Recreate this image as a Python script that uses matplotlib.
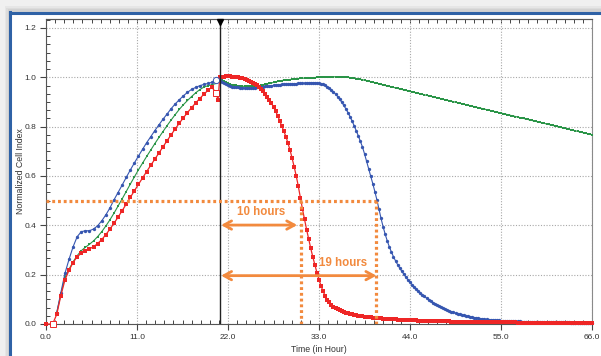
import numpy as np
import matplotlib
matplotlib.use("Agg")
import matplotlib.pyplot as plt
import matplotlib.patches as mpatches
from matplotlib.lines import Line2D
from matplotlib.ticker import MultipleLocator, FuncFormatter

plt.rcParams['font.family'] = ['Liberation Sans', 'DejaVu Sans']

# ---------------- data ----------------
# sampling before compound addition (~every 0.5 h)
t_pre = np.round(np.linspace(1.3, 20.56, 40), 3)
blue_pre = [46, 127, 205, 262, 313, 354, 374, 378, 378, 385,
            398, 418, 442, 470, 503, 533, 563, 594, 624, 653,
            681, 708, 735, 759, 784, 807, 830, 851, 873, 892,
            909, 925, 939, 951, 959, 966, 971, 975, 980, 989]
green_pre = [46, 120, 190, 222, 252, 277, 297, 311, 323, 337,
             354, 374, 397, 422, 449, 478, 507, 537, 567, 596,
             625, 652, 679, 705, 731, 756, 780, 804, 827, 849,
             870, 889, 906, 922, 937, 950, 960, 966, 970, 975]
red_pre = [39, 115, 178, 218, 249, 273, 286, 296, 305, 313,
           326, 342, 362, 384, 408, 433, 459, 486, 513, 540,
           566, 592, 618, 643, 668, 693, 718, 743, 767, 791,
           814, 836, 857, 877, 896, 914, 931, 947, 960]
red_start_t = [0.0, 0.8]
red_start_v = [0, 0]
red_dip_t = [20.56, 20.8]
red_dip_v = [935, 908]

# sampling after compound addition (every 0.25 h from 21 h to 66 h)
t_post = 21.0 + 0.25 * np.arange(181)
blue_post = [990, 982, 976, 971, 967, 964, 962, 961, 960, 959,
             958, 958, 957, 957, 957, 957, 957, 958, 959, 960,
             961, 962, 963, 964, 965, 966, 967, 968, 969, 970,
             971, 971, 972, 972, 973, 973, 974, 974, 975, 975,
             976, 976, 977, 977, 978, 978, 978, 977, 975, 973,
             971, 967, 962, 956, 949, 941, 932, 922, 911, 899,
             886, 872, 857, 841, 823, 804, 784, 763, 741, 718,
             690, 660, 630, 600, 569, 537, 503, 465, 428, 394,
             364, 337, 313, 292, 273, 256, 241, 227, 214, 202,
             190, 179, 169, 160, 151, 142, 134, 126, 119, 112,
             105, 99, 93, 87, 82, 77, 72, 68, 64, 60,
             56, 53, 50, 47, 44, 42, 39, 37, 35, 33,
             31, 29, 28, 26, 25, 24, 22, 21, 20, 19,
             18, 18, 17, 16, 15, 15, 14, 14, 13, 13,
             12, 12, 12, 11, 11, 11, 10, 10, 10, 10,
             9, 9, 9, 9, 9, 8, 8, 8, 8, 8,
             8, 8, 7, 7, 7, 7, 7, 7, 7, 7,
             6, 6, 6, 6, 6, 6, 6, 6, 6, 6,
             6]
green_post = [995, 990, 985, 979, 975, 972, 970, 968, 967, 966,
              965, 964, 963, 963, 963, 963, 963, 964, 965, 966,
              967, 969, 971, 973, 975, 977, 979, 981, 983, 985,
              987, 988, 989, 990, 991, 992, 993, 994, 995, 996,
              996, 997, 997, 998, 998, 999, 999, 1000, 1000, 1000,
              1001, 1001, 1001, 1002, 1002, 1002, 1002, 1002, 1002, 1002,
              1002, 1001, 1000, 999, 998, 997, 995, 994, 992, 990,
              988, 986, 984, 982, 980, 978, 976, 974, 971, 969,
              967, 965, 963, 961, 959, 957, 955, 953, 951, 949,
              947, 945, 943, 941, 939, 937, 935, 933, 931, 929,
              927, 925, 923, 921, 919, 917, 915, 913, 911, 909,
              907, 905, 903, 901, 899, 897, 895, 893, 891, 889,
              887, 885, 883, 881, 879, 877, 875, 873, 871, 869,
              867, 865, 863, 861, 859, 857, 855, 853, 851, 849,
              847, 845, 843, 841, 839, 837, 835, 833, 831, 829,
              827, 825, 823, 821, 819, 817, 815, 813, 811, 809,
              807, 805, 803, 801, 799, 797, 795, 793, 791, 789,
              787, 785, 783, 781, 779, 777, 775, 773, 771, 769,
              767]
red_post = [1000, 1002, 1003, 1004, 1004, 1004, 1003, 1002, 1001, 1000,
            998, 996, 994, 991, 987, 982, 977, 973, 968, 962,
            954, 945, 934, 922, 909, 895, 880, 863, 845, 824,
            804, 783, 760, 733, 705, 672, 637, 600, 558, 512,
            466, 424, 383, 344, 307, 272, 240, 208, 180, 154,
            132, 114, 99, 88, 78, 70, 64, 59, 55, 51,
            48, 45, 43, 41, 39, 37, 35, 34, 32, 31,
            30, 29, 28, 27, 26, 25, 24, 23, 23, 22,
            21, 21, 20, 20, 19, 19, 18, 18, 17, 17,
            16, 16, 16, 15, 15, 15, 14, 14, 14, 13,
            13, 13, 13, 12, 12, 12, 12, 11, 11, 11,
            11, 11, 10, 10, 10, 10, 10, 10, 9, 9,
            9, 9, 9, 9, 9, 8, 8, 8, 8, 8,
            8, 8, 8, 8, 7, 7, 7, 7, 7, 7,
            7, 7, 7, 7, 6, 6, 6, 6, 6, 6,
            6, 6, 6, 6, 6, 6, 6, 5, 5, 5,
            5, 5, 5, 5, 5, 5, 5, 5, 5, 5,
            5, 5, 5, 5, 5, 4, 4, 4, 4, 4,
            4]

x_ticks = [0, 11, 22, 33, 44, 55, 66]
y_ticks = [0.0, 0.2, 0.4, 0.6, 0.8, 1.0, 1.2]
t_add = 21.0          # compound addition time
half_level = 0.5
t_red_half = 30.77
t_blue_half = 39.94
arrow10 = (21.16, 30.37, 0.401)
arrow19 = (21.16, 39.94, 0.196)

# ---------------- assemble ----------------
scale = 1000.0
blue_t = np.concatenate([t_pre, t_post])
blue_v = np.concatenate([blue_pre, blue_post]) / scale
green_t = np.concatenate([t_pre, t_post])
green_v = np.concatenate([green_pre, green_post]) / scale
red_t = np.concatenate([red_start_t, t_pre[:len(red_pre)], red_dip_t, t_post])
red_v = np.concatenate([red_start_v, red_pre, red_dip_v, red_post]) / scale

BLUE = '#3656b0'
GREEN = '#2a9447'
RED = '#ee2626'
ORANGE = '#f28a3e'

W, H = 601, 356
fig = plt.figure(figsize=(W / 100, H / 100), dpi=100)
fig.patch.set_facecolor('white')

# window frame decoration (soft shadow + blue border)
fig.add_artist(mpatches.Rectangle((0, 0), 1, 1, transform=fig.transFigure,
                                  facecolor='#f0f0f0', edgecolor='none', zorder=-6))
for i, c in enumerate(['#e6e6e6', '#dcdcdc', '#d2d2d2']):
    off = 3 - i
    fig.add_artist(mpatches.Rectangle(((9 - off * 1.5) / W, 0), (off * 1.5 + 1) / W,
                                      (H - 11 + off * 1.5) / H, transform=fig.transFigure,
                                      facecolor=c, edgecolor='none', zorder=-5 + i * 0.1))
    fig.add_artist(mpatches.Rectangle(((9 - off * 1.5) / W, (H - 12) / H), 1,
                                      (off * 1.5 + 1) / H, transform=fig.transFigure,
                                      facecolor=c, edgecolor='none', zorder=-5 + i * 0.1))
fig.add_artist(mpatches.Rectangle((10 / W, 0), 1, (H - 12) / H, transform=fig.transFigure,
                                  facecolor='white', edgecolor='none', zorder=-3))
fig.add_artist(Line2D([10.5 / W, 10.5 / W], [0, (H - 12) / H], transform=fig.transFigure,
                      color='#2f62a6', lw=2.2, zorder=-2))
fig.add_artist(Line2D([10 / W, 1], [(H - 12.5) / H] * 2, transform=fig.transFigure,
                      color='#2f62a6', lw=2.2, zorder=-2))

ax = fig.add_axes([46 / W, 32 / H, 546 / W, 305 / H])
ax.set_facecolor('white')
ax.set_xlim(0, 66)
ax.set_ylim(0, 1.2363)

# grid
ax.set_xticks(x_ticks)
ax.set_yticks(y_ticks)
ax.grid(True, which='major', color='#a8a8a8', lw=0.8, linestyle=(0, (1, 1.5)))
ax.set_axisbelow(True)
ax.xaxis.set_major_formatter(FuncFormatter(lambda v, p: f'{v:.1f}'))
ax.yaxis.set_major_formatter(FuncFormatter(lambda v, p: f'{v:.1f}'))
ax.xaxis.set_minor_locator(MultipleLocator(1.1))
ax.yaxis.set_minor_locator(MultipleLocator(0.2 / 6))
ax.tick_params(which='major', direction='out', length=4, width=0.8, color='#444444',
               labelsize=6, labelcolor='#333333', pad=3)
ax.tick_params(which='minor', direction='in', length=3, width=0.7, color='#444444')
ax.tick_params(axis='x', which='both', top=False)
ax.tick_params(axis='y', which='both', right=False)
sec = ax.secondary_xaxis('top')
sec.set_xticks(x_ticks)
sec.xaxis.set_minor_locator(MultipleLocator(1.1))
sec.tick_params(which='both', direction='in', length=3, width=0.7, color='#444444',
                labeltop=False)
for s in sec.spines.values():
    s.set_color('#707070')
    s.set_linewidth(0.8)
for name, s in ax.spines.items():
    s.set_color('#555555')
    s.set_linewidth(0.8)
ax.spines['right'].set_color('#8a8a8a')

ax.set_xlabel('Time (in Hour)', fontsize=6.3, color='#333333')
ax.xaxis.set_label_coords(0.5, -0.083)
ax.xaxis.label.set_va('center')
ax.set_ylabel('Normalized Cell Index', fontsize=6.3, color='#333333')
ax.yaxis.set_label_coords(-0.0476, 0.5)
ax.yaxis.label.set_va('center')

# series
ax.plot(green_t, green_v, color=GREEN, lw=0.8, marker='s', ms=2.1, mew=0,
        clip_on=False, zorder=3)
ax.plot(blue_t, blue_v, color=BLUE, lw=0.8, marker='o', ms=2.4, mew=0,
        clip_on=False, zorder=4)
ax.plot(red_t, red_v, color=RED, lw=0.9, marker='s', ms=3.0, mew=0,
        clip_on=False, zorder=5)
# hollow reference markers
ax.plot([t_pre[-1]], [blue_pre[-1] / scale], marker='o', ms=4.5, mfc='white', mec=BLUE,
        mew=0.7, ls='none', zorder=6)
ax.plot([red_start_t[1], red_dip_t[0]], [red_start_v[1] / scale, red_dip_v[0] / scale],
        marker='s', ms=4.5, mfc='white', mec=RED, mew=0.7, ls='none', zorder=6, clip_on=False)

# compound addition line
ax.axvline(t_add, color='#222222', lw=1.0, zorder=7)
ax.plot([t_add], [0.99], transform=ax.get_xaxis_transform(), marker='v', ms=4.5,
        color='black', clip_on=False, zorder=8)

# orange annotations
dot = (0, (0.9, 0.9))
ax.plot([0, t_blue_half], [half_level, half_level], color=ORANGE, lw=2.3, ls=dot, zorder=8)
ax.plot([t_red_half, t_red_half], [0, half_level], color=ORANGE, lw=2.3, ls=dot, zorder=8)
ax.plot([t_blue_half, t_blue_half], [0, half_level], color=ORANGE, lw=2.3, ls=dot, zorder=8)
for (x0, x1, y) in (arrow10, arrow19):
    ax.annotate('', xy=(x1, y), xytext=(x0, y),
                arrowprops=dict(arrowstyle='<->,head_length=0.55,head_width=0.3',
                                color=ORANGE, lw=2.0, shrinkA=0, shrinkB=0), zorder=9)
ax.text(26.05, 0.454, '10 hours', color=ORANGE, fontsize=8.3, fontweight='bold',
        ha='center', va='center', zorder=9)
ax.text(35.9, 0.246, '19 hours', color=ORANGE, fontsize=8.3, fontweight='bold',
        ha='center', va='center', zorder=9)

fig.savefig('out.png', dpi=100, facecolor=fig.get_facecolor())
